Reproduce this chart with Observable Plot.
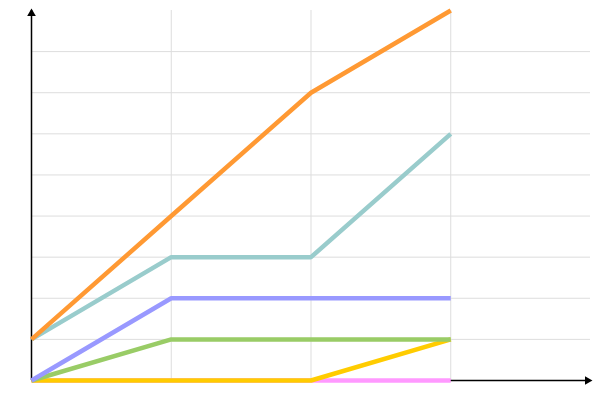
<!DOCTYPE html>
<html>
<head>
<meta charset="utf-8">
<script src="https://cdn.jsdelivr.net/npm/d3@7"></script>
<script src="https://cdn.jsdelivr.net/npm/@observablehq/plot@0.6"></script>
<style>
  body { margin: 0; background: #fff; }
</style>
</head>
<body>
<div id="chart"></div>
<script>
// Steps along the x axis
const steps = [0, 1, 2, 3];

// Series values per step (drawn bottom layer first)
const seriesNames = ["S1", "S2", "S3", "S4", "S5", "S6"];
const s1Values = [0, 0, 0, 0];
const s2Values = [0, 0, 0, 1];
const s3Values = [0, 1, 1, 1];
const s4Values = [0, 2, 2, 2];
const s5Values = [1, 3, 3, 6];
const s6Values = [1, 4, 7, 9];
const seriesColors = ["#ff99ff", "#ffcc00", "#99cc66", "#9999ff", "#99cccc", "#ff9933"];

// Grid positions
const xGrid = [1, 2, 3];
const yGrid = [1, 2, 3, 4, 5, 6, 7, 8];

const allValues = [s1Values, s2Values, s3Values, s4Values, s5Values, s6Values];
const rows = seriesNames.flatMap((name, i) =>
  steps.map((s, j) => ({series: name, x: s, y: allValues[i][j]}))
);

const chart = Plot.plot({
  width: 600,
  height: 400,
  marginLeft: 31,
  marginRight: 10,
  marginTop: 10,
  marginBottom: 20,
  x: {domain: [0, 4], axis: null},
  y: {domain: [0, 9], axis: null},
  color: {domain: seriesNames, range: seriesColors},
  marks: [
    Plot.ruleY(yGrid, {x1: 0, x2: 4, stroke: "#dddddd", strokeWidth: 1}),
    Plot.ruleX(xGrid, {y1: 0, y2: 9, stroke: "#dddddd", strokeWidth: 1}),
    Plot.ruleY([0], {x1: 0, x2: 4, stroke: "#000", strokeWidth: 1.5}),
    Plot.ruleX([0], {y1: 0, y2: 9, stroke: "#000", strokeWidth: 1.5}),
    Plot.dot([{x: 4, y: 0}], {x: "x", y: "y", symbol: "triangle", r: 3.2, rotate: 90, fill: "#000", stroke: null, dx: -3}),
    Plot.dot([{x: 0, y: 9}], {x: "x", y: "y", symbol: "triangle", r: 3.2, rotate: 0, fill: "#000", stroke: null, dy: 3}),
    Plot.line(rows, {x: "x", y: "y", z: "series", stroke: "series", strokeWidth: 4.5, curve: "linear", strokeLinejoin: "miter", strokeLinecap: "butt"})
  ]
});

document.getElementById("chart").appendChild(chart);
</script>
</body>
</html>
